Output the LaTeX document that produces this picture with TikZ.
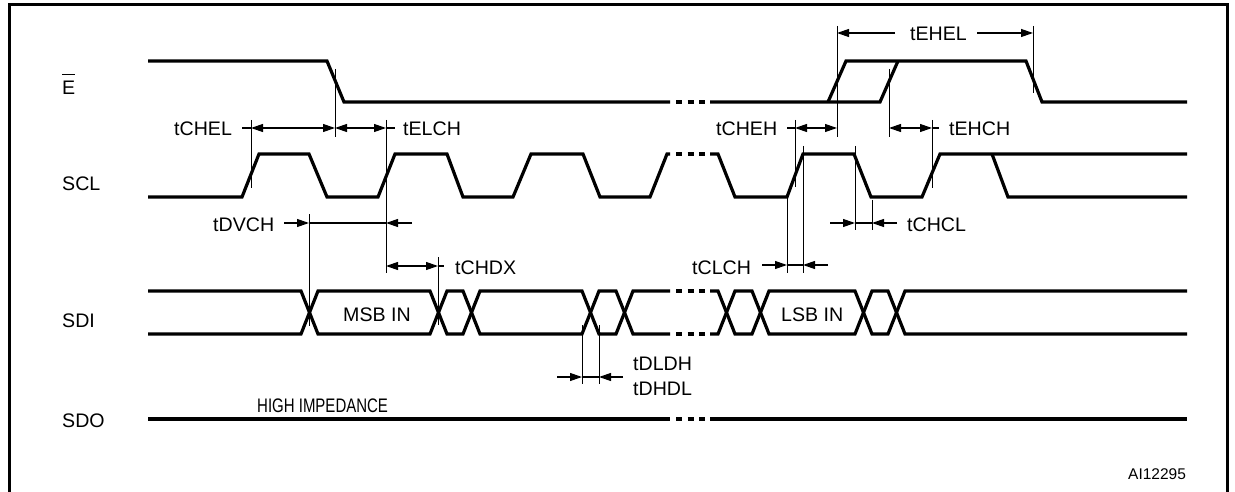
\documentclass[tikz,border=0pt]{standalone}
\usepackage{fontspec}
\setmainfont{Liberation Sans}
\usetikzlibrary{arrows.meta}
\newcommand\gapdash[1]{\draw[sig] (676,#1)--(682,#1) (687.5,#1)--(693.5,#1) (699,#1)--(705,#1);}
\begin{document}
\begin{tikzpicture}[x=1pt,y=-1pt,
  sig/.style={line width=3.2pt,line join=miter},
  tickln/.style={line width=1pt},
  dimln/.style={line width=1.2pt},
  lbl/.style={inner sep=0pt,anchor=base west,font=\fontsize{19.6}{23}\selectfont},
  >={Triangle[length=12pt,width=8pt]}
]
\useasboundingbox (0,0) rectangle (1235,492);
% frame
\draw[line width=3pt] (9,493) -- (9,5) -- (1227,5) -- (1227,493);

% signal names
\node[lbl] (ebar) at (62,95) {E};
\draw[line width=1.5pt] ([yshift=7pt]ebar.north west) -- ([yshift=7pt]ebar.north east);
\node[lbl] (scl) at (62,190) {SCL};
\node[lbl] (sdi) at (62,327) {SDI};
\node[lbl] (sdo) at (62,427) {SDO};

% E bar waveform
\draw[sig] (148,61) -- (327,61) -- (344,102) -- (670,102);
\gapdash{102}
\draw[sig] (710,102) -- (880,102) -- (898,61);
\draw[sig] (828,102) -- (846,61) -- (1026,61) -- (1042,102) -- (1187,102);

% SCL waveform
\draw[sig] (148,197) -- (242,197) -- (259,154) -- (309,154) -- (327,197) -- (378,197) -- (395,154) -- (447,154) -- (463,197) -- (513,197) -- (531,154) -- (583,154) -- (600,197) -- (650,197) -- (667,154) -- (670,154);
\gapdash{154}
\draw[sig] (710,154) -- (718,154) -- (735,197) -- (787,197) -- (803,154) -- (854,154) -- (871,197) -- (922,197) -- (940,154) -- (1187,154);
\draw[sig] (992,154) -- (1008,197) -- (1187,197);

% SDI waveform
\draw[sig] (148,291) -- (301,291) -- (318,334) -- (430,334) -- (447,291) -- (463,291) -- (480,334) -- (582,334) -- (599,291) -- (616,291) -- (633,334) -- (670,334);
\draw[sig] (148,334) -- (301,334) -- (318,291) -- (430,291) -- (447,334) -- (463,334) -- (480,291) -- (582,291) -- (599,334) -- (616,334) -- (633,291) -- (670,291);
\gapdash{291}
\gapdash{334}
\draw[sig] (710,334) -- (718,334) -- (735,291) -- (752,291) -- (769,334) -- (855,334) -- (872,291) -- (888,291) -- (905,334) -- (1187,334);
\draw[sig] (710,291) -- (718,291) -- (735,334) -- (752,334) -- (769,291) -- (855,291) -- (872,334) -- (888,334) -- (905,291) -- (1187,291);
\node[lbl] (msb) at (343,321) {MSB IN};
\node[lbl] (lsb) at (781,321) {LSB IN};

% SDO waveform
\draw[sig] (148,419) -- (670,419);
\gapdash{419}
\draw[sig] (710,419) -- (1187,419);
\node[lbl] (hiz) at (257,412) {\scalebox{0.765}[1]{HIGH IMPEDANCE}};

% reference lines
\draw[tickln] (251,120) -- (251,188);
\draw[tickln] (335,69) -- (335,137);
\draw[tickln] (386,120) -- (386,273);
\draw[tickln] (309,214) -- (309,326);
\draw[tickln] (438,257) -- (438,325);
\draw[tickln] (582,325) -- (582,384);
\draw[tickln] (599,325) -- (599,384);
\draw[tickln] (795,120) -- (795,187);
\draw[tickln] (837,26) -- (837,137);
\draw[tickln] (889,69) -- (889,137);
\draw[tickln] (932,120) -- (932,188);
\draw[tickln] (1033,26) -- (1033,93);
\draw[tickln] (787,197) -- (787,273);
\draw[tickln] (803,146) -- (803,273);
\draw[tickln] (855,146) -- (855,230);
\draw[tickln] (872,200) -- (872,230);

% tCHEL / tELCH
\draw[dimln] (242,128) -- (251,128);
\draw[dimln,<->] (251,128) -- (335,128);
\draw[dimln,<->] (335,128) -- (386,128);
\draw[dimln] (386,128) -- (395,128);
\node[lbl] (tchel) at (174,136) {tCHEL};
\node[lbl] (telch) at (403,136) {tELCH};

% tDVCH
\draw[dimln,->] (284,223) -- (309,223);
\draw[dimln] (309,223) -- (386,223);
\draw[dimln,->] (412,223) -- (386,223);
\node[lbl] (tdvch) at (213,231) {tDVCH};

% tCHDX
\draw[dimln,<->] (386,266) -- (438,266);
\draw[dimln] (438,266) -- (444,266);
\node[lbl] (tchdx) at (455,274) {tCHDX};

% tDLDH / tDHDL
\draw[dimln,->] (557,377) -- (582,377);
\draw[dimln] (582,377) -- (599,377);
\draw[dimln,->] (623,377) -- (599,377);
\node[lbl] (tdldh) at (633,370) {tDLDH};
\node[lbl] (tdhdl) at (633,395) {tDHDL};

% tCLCH
\draw[dimln,->] (762,265) -- (787,265);
\draw[dimln] (787,265) -- (803,265);
\draw[dimln,->] (828,265) -- (803,265);
\node[lbl] (tclch) at (692,274) {tCLCH};

% tCHCL
\draw[dimln,->] (830,223) -- (855,223);
\draw[dimln] (855,223) -- (872,223);
\draw[dimln,->] (897,223) -- (872,223);
\node[lbl] (tchcl) at (907,231) {tCHCL};

% tCHEH / tEHCH
\draw[dimln] (787,128) -- (795,128);
\draw[dimln,<->] (795,128) -- (837,128);
\node[lbl] (tcheh) at (716,136) {tCHEH};
\draw[dimln,<->] (889,128) -- (932,128);
\draw[dimln] (932,128) -- (939,128);
\node[lbl] (tehch) at (949,136) {tEHCH};

% tEHEL
\draw[dimln,->] (895,33) -- (837,33);
\draw[dimln,->] (977,33) -- (1033,33);
\node[lbl] (tehel) at (910,41) {tEHEL};

% figure id
\node[inner sep=0pt,anchor=base west,font=\fontsize{15.5}{18}\selectfont] (aid) at (1128,479) {AI12295};
\end{tikzpicture}
\end{document}
